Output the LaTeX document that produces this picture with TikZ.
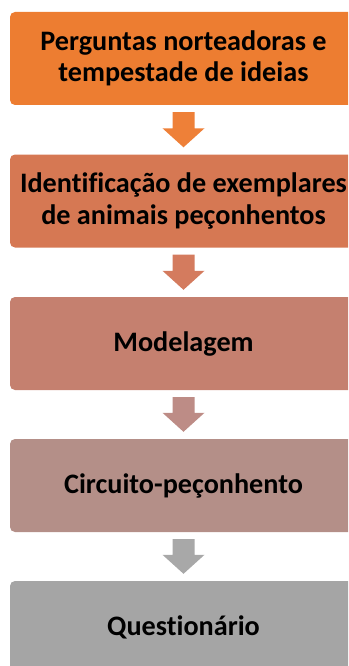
\documentclass[tikz,border=0pt]{standalone}
\usepackage{fontspec}
\setmainfont{Carlito}[Ligatures={NoCommon}]
\usetikzlibrary{calc}
\definecolor{cA}{HTML}{ED7D31}
\definecolor{cB}{HTML}{D67853}
\definecolor{cC}{HTML}{C5806F}
\definecolor{cD}{HTML}{B48F88}
\definecolor{cE}{HTML}{A5A5A5}
\definecolor{aA}{HTML}{EE8038}
\definecolor{aB}{HTML}{D47B5E}
\definecolor{aC}{HTML}{BD8C86}
\definecolor{aD}{HTML}{A8A8A8}
\tikzset{
  stagebox/.style={rectangle, rounded corners=5pt, minimum width=347pt, minimum height=93pt,
    inner sep=0pt, align=center, text=black,
    font=\bfseries\fontsize{28.2}{31.5}\selectfont},
}
\newcommand{\blockarr}[3]{%
  \fill[#3] ($(#1.south)+(-11pt,-7pt)$) -- ($(#1.south)+(11pt,-7pt)$)
    -- ($(#2.north)+(11pt,26pt)$) -- ($(#2.north)+(21pt,26pt)$)
    -- ($(#2.north)+(0pt,7pt)$) -- ($(#2.north)+(-21pt,26pt)$)
    -- ($(#2.north)+(-11pt,26pt)$) -- cycle;}
\begin{document}
\begin{tikzpicture}[x=1pt,y=1pt]
\useasboundingbox (0,0) rectangle (348,-666);
\begin{scope}
\clip (0,0) rectangle (348,-666);
\node[stagebox, fill=cA] (b1) at (183.5,-58.5) {Perguntas norteadoras e\\tempestade de ideias};
\node[stagebox, fill=cB] (b2) at (183.5,-201) {Identificação de exemplares\\de animais peçonhentos};
\node[stagebox, fill=cC] (b3) at (183.5,-343.5) {Modelagem};
\node[stagebox, fill=cD] (b4) at (183.5,-485.5) {Circuito-peçonhento};
\node[stagebox, fill=cE] (b5) at (183.5,-627.5) {Questionário};
\blockarr{b1}{b2}{aA}
\blockarr{b2}{b3}{aB}
\blockarr{b3}{b4}{aC}
\blockarr{b4}{b5}{aD}
\end{scope}
\end{tikzpicture}
\end{document}
